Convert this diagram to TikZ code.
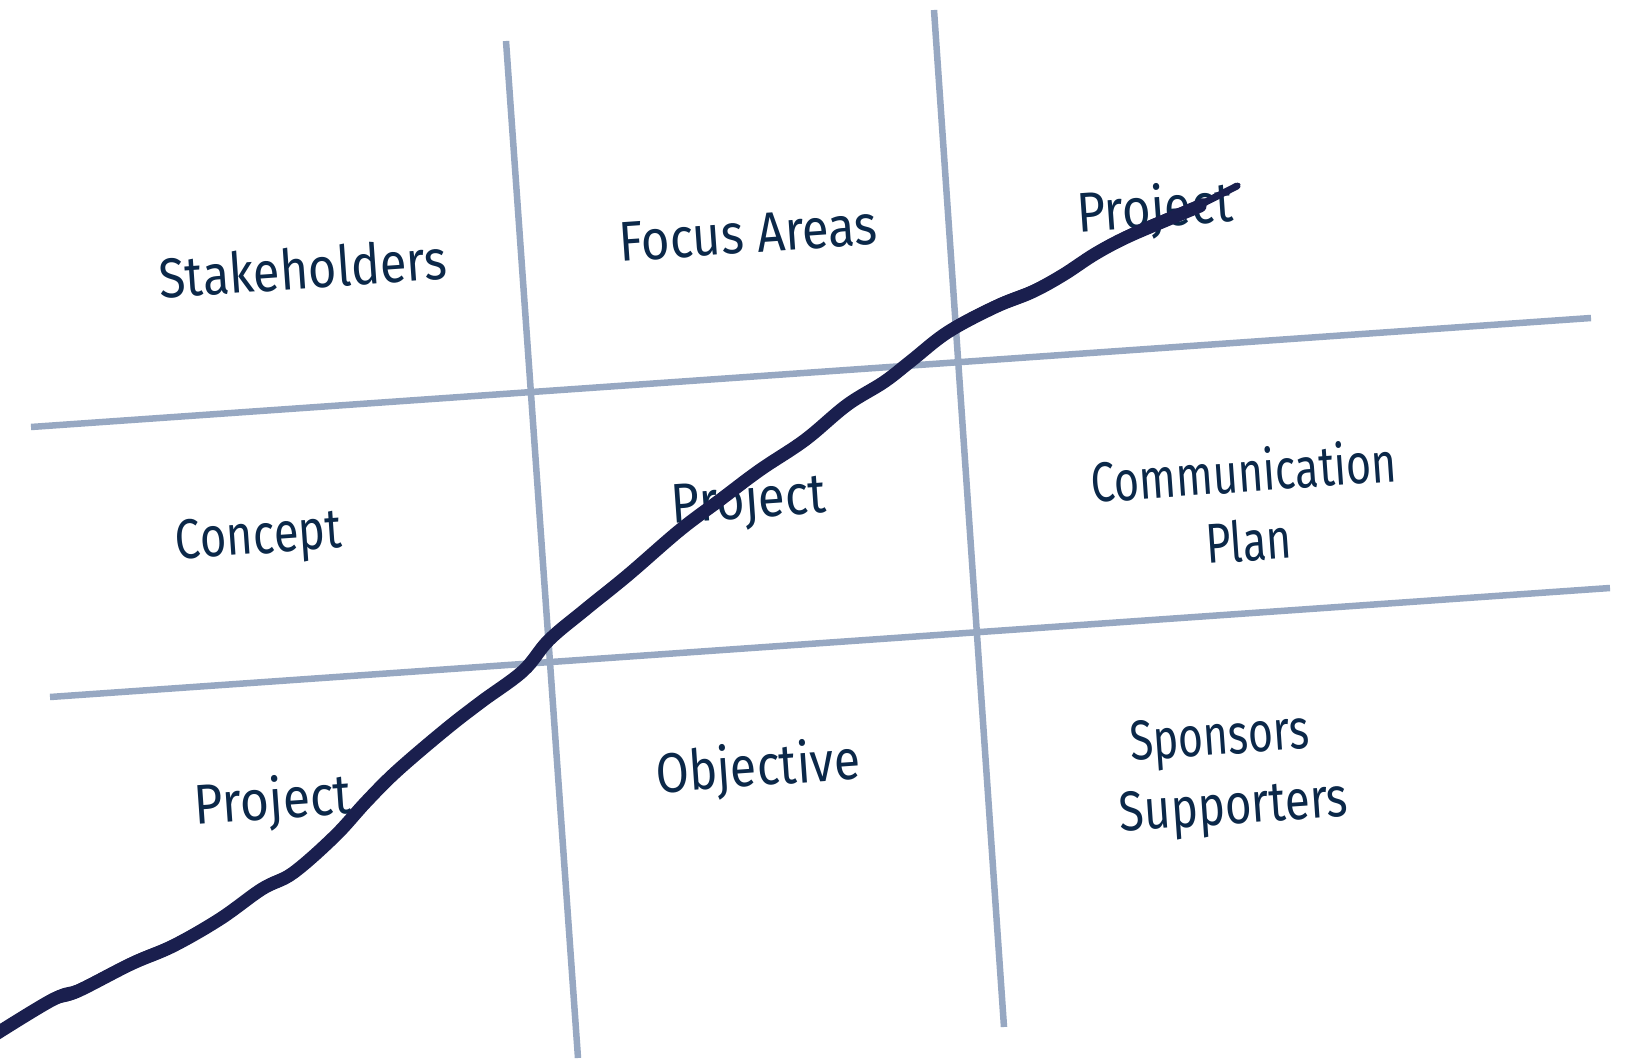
\documentclass[tikz,border=0pt]{standalone}
\usepackage{fontspec}
\setmainfont{Fira Sans}
\definecolor{gridc}{HTML}{97A8C2}
\definecolor{inkc}{HTML}{0B2849}
\definecolor{brushc}{HTML}{1A1F4E}
\begin{document}
\begin{tikzpicture}[x=1pt,y=-1pt,
  gridline/.style={draw=gridc,line width=6.5pt},
  label/.style={text=inkc,font=\fontsize{56}{69}\selectfont,rotate=4,inner sep=0pt,align=center},
  brush/.style={draw=brushc,line width=13pt,line cap=round,line join=round}]
\path[use as bounding box,fill=white] (0,0) rectangle (1627,1059);
% grid lines
\coordinate (v1t) at (506,41); \coordinate (v1b) at (578,1058);
\coordinate (v2t) at (934,10); \coordinate (v2b) at (1004,1027);
\coordinate (h1l) at (31,427); \coordinate (h1r) at (1591,318);
\coordinate (h2l) at (50,697); \coordinate (h2r) at (1610,588);
\draw[gridline] (v1t) -- (v1b);
\draw[gridline] (v2t) -- (v2b);
\draw[gridline] (h1l) -- (h1r);
\draw[gridline] (h2l) -- (h2r);
% labels
\node[label,xscale=0.87] (stake) at (303,268) {Stakeholders};
\node[label,xscale=0.875] (focus) at (748,234) {Focus Areas};
\node[label,xscale=0.88] (proj1) at (1155,211) {Project};
\node[label,xscale=0.81] (concept) at (259,540) {Concept};
\node[label,xscale=0.875] (proj2) at (749,502) {Project};
\node[label,xscale=0.77] (comm) at (1246,505) {Communication\\Plan};
\node[label,xscale=0.89] (proj3) at (273,803) {Project};
\node[label,xscale=0.857] (obj) at (758,770) {Objective};
\node[label,xscale=0.765] (spons) at (1220,741) {Sponsors};
\node[label,xscale=0.815] (supp) at (1234,810) {Supporters};
% brush curve
\def\brushpath{plot[smooth,tension=0.6] coordinates {
 (-4,1034) (52,1000) (78,991) (131,964) (173,946) (220,919) (262,889)
 (293,873) (335,836) (366,802) (397,771) (445,730) (481,702) (523,671)
 (549,640) (586,609) (628,575) (680,530) (720,500) (760,470) (805,440)
 (847,405) (884,382) (911,361) (948,332) (995,307) (1032,292) (1063,275)
 (1095,254) (1127,237) (1169,219) (1200,206)}}
\draw[brush] \brushpath;
\draw[brush,line width=8pt,shift={(3,-4)}] \brushpath;
\draw[brush,line width=7pt,shift={(-3,4)}] \brushpath;
\draw[brushc,line width=7pt,line cap=round] (1190,210) -- (1237,186);
\draw[brushc,line width=2pt] (1180,218) -- (1240,184);
\end{tikzpicture}
\end{document}
